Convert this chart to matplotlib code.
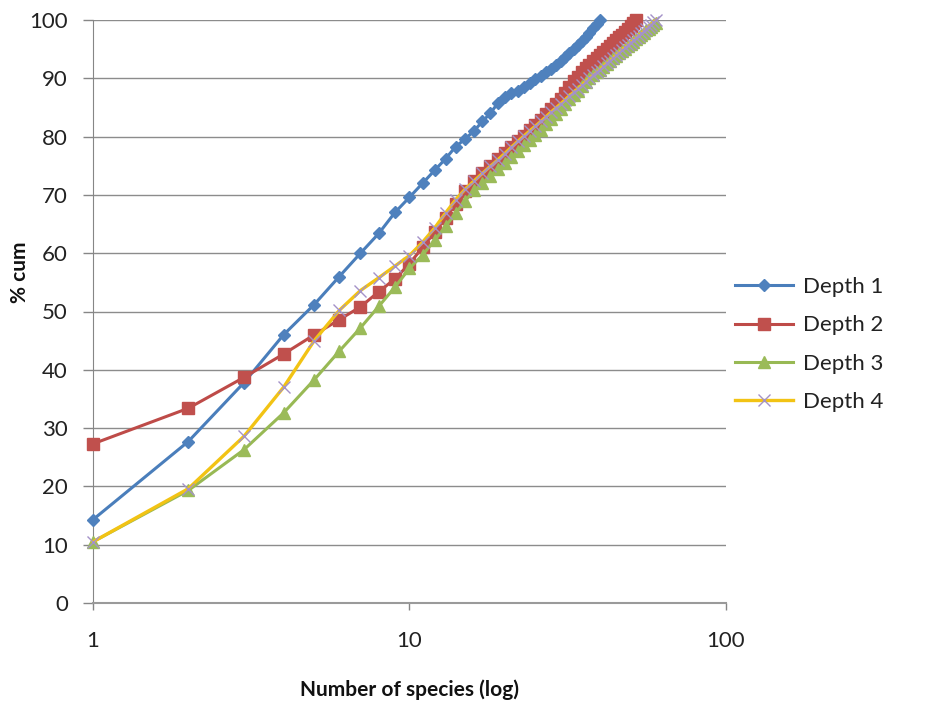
import matplotlib
matplotlib.use("Agg")
import matplotlib.pyplot as plt
from matplotlib.ticker import FixedLocator, NullLocator, FixedFormatter

plt.rcParams['font.family'] = ['Lato', 'DejaVu Sans']

# ---- data ----
depth1 = [14.3, 27.7, 37.8, 46.0, 51.2, 56.0, 60.0, 63.4, 67.0, 69.6,
          72.0, 74.2, 76.2, 78.3, 79.6, 81.0, 82.6, 84.0, 85.7, 86.8,
          87.4, 87.9, 88.5, 89.2, 89.8, 90.4, 91.0, 91.6, 92.3, 92.9,
          93.6, 94.3, 95.0, 95.7, 96.4, 97.1, 97.8, 98.6, 99.3, 100.0]
depth2 = [27.3, 33.4, 38.7, 42.7, 46.0, 48.6, 50.8, 53.4, 55.6, 58.2,
          61.0, 63.6, 66.0, 68.5, 70.6, 72.3, 73.8, 75.0, 76.2, 77.2,
          78.2, 79.2, 80.1, 81.1, 82.0, 82.9, 83.8, 84.7, 85.6, 86.5,
          87.5, 88.5, 89.5, 90.3, 91.0, 91.7, 92.3, 92.9, 93.5, 94.0,
          94.5, 95.0, 95.5, 96.0, 96.5, 97.0, 97.5, 98.0, 98.5, 99.0,
          99.5, 100.0]
depth3 = [10.5, 19.3, 26.3, 32.6, 38.3, 43.2, 47.2, 50.9, 54.2, 57.4,
          59.7, 62.2, 64.6, 66.9, 69.0, 70.8, 72.0, 73.3, 74.4, 75.4,
          76.5, 77.5, 78.5, 79.4, 80.3, 81.2, 82.2, 83.1, 83.9, 84.8,
          85.6, 86.4, 87.2, 87.9, 88.7, 89.4, 90.0, 90.5, 91.0, 91.5,
          92.0, 92.5, 92.9, 93.4, 93.8, 94.3, 94.7, 95.1, 95.5, 95.9,
          96.3, 96.7, 97.1, 97.4, 97.8, 98.2, 98.5, 98.8, 99.2, 99.5]
depth4 = [10.5, 19.6, 28.6, 37.0, 45.0, 50.2, 53.6, 55.8, 57.8, 59.6,
          61.9, 64.3, 66.9, 69.2, 71.0, 72.4, 73.7, 74.9, 76.0, 77.1,
          78.2, 79.2, 80.1, 81.0, 81.8, 82.6, 83.4, 84.2, 84.9, 85.6,
          86.3, 87.0, 87.6, 88.2, 88.8, 89.4, 90.0, 90.5, 91.0, 91.5,
          92.1, 92.6, 93.0, 93.5, 94.0, 94.4, 94.9, 95.3, 95.7, 96.1,
          96.5, 96.9, 97.3, 97.7, 98.1, 98.5, 98.8, 99.2, 99.6, 100.0]
series_names = ["Depth 1", "Depth 2", "Depth 3", "Depth 4"]
x_ticks = [1, 10, 100]
x_tick_labels = ["1", "10", "100"]
y_ticks = list(range(0, 101, 10))

W, H = 931, 702
fig = plt.figure(figsize=(W / 100, H / 100), dpi=100)
ax = fig.add_axes([93 / W, 1 - 603 / H, (726 - 93) / W, (603 - 20) / H])

def xs(vals):
    return list(range(1, len(vals) + 1))

ax.plot(xs(depth1), depth1, color='#4A7EBB', lw=2.2, marker='D', ms=6.5,
        mfc='#4F81BD', mec='#4F81BD', label=series_names[0], clip_on=False, zorder=3)
ax.plot(xs(depth2), depth2, color='#BE4B48', lw=2.2, marker='s', ms=8,
        mfc='#C0504D', mec='#C0504D', label=series_names[1], clip_on=False, zorder=3)
ax.plot(xs(depth3), depth3, color='#98B954', lw=2.2, marker='^', ms=8.5,
        mfc='#9BBB59', mec='#9BBB59', label=series_names[2], clip_on=False, zorder=3)
ax.plot(xs(depth4), depth4, color='#F2C314', lw=2.4, marker='x', ms=8, mew=1.0,
        mec='#A492C8', label=series_names[3], clip_on=False, zorder=3)

ax.set_xscale('log')
ax.set_xlim(1, 100)
ax.set_ylim(0, 100)
ax.xaxis.set_major_locator(FixedLocator(x_ticks))
ax.xaxis.set_major_formatter(FixedFormatter(x_tick_labels))
ax.xaxis.set_minor_locator(NullLocator())
ax.set_yticks(y_ticks)

ax.grid(axis='y', color='#8C8C8C', lw=1.0)
ax.set_axisbelow(True)
for s in ['top', 'right']:
    ax.spines[s].set_visible(False)
ax.spines['left'].set_color('#868686')
ax.spines['bottom'].set_color('#9A9A9A')
ax.spines['bottom'].set_linewidth(1.5)

ax.tick_params(axis='y', length=7, width=1, color='#868686', pad=11,
               labelsize=16, labelcolor='#222222')
ax.tick_params(axis='x', length=5, width=1, color='#868686', pad=15,
               labelsize=16, labelcolor='#222222')

ax.set_xlabel("Number of species (log)", fontsize=15, fontweight='bold', color='#111111')
ax.xaxis.set_label_coords(0.5, -(690 - 603) / 583)
ax.xaxis.label.set_va('center')
ax.set_ylabel("% cum", fontsize=15, fontweight='bold', color='#111111')
ax.yaxis.set_label_coords(-(93 - 20) / 633, (603 - 272) / 583)
ax.yaxis.label.set_va('center')

leg = fig.legend(loc='center left', bbox_to_anchor=(735 / W, 1 - 344.5 / H),
                 frameon=False, fontsize=16, handlelength=2.6, handletextpad=0.45,
                 labelspacing=0.82, borderpad=0, borderaxespad=0)
for t in leg.get_texts():
    t.set_color('#222222')

fig.savefig("out.png", dpi=100)
